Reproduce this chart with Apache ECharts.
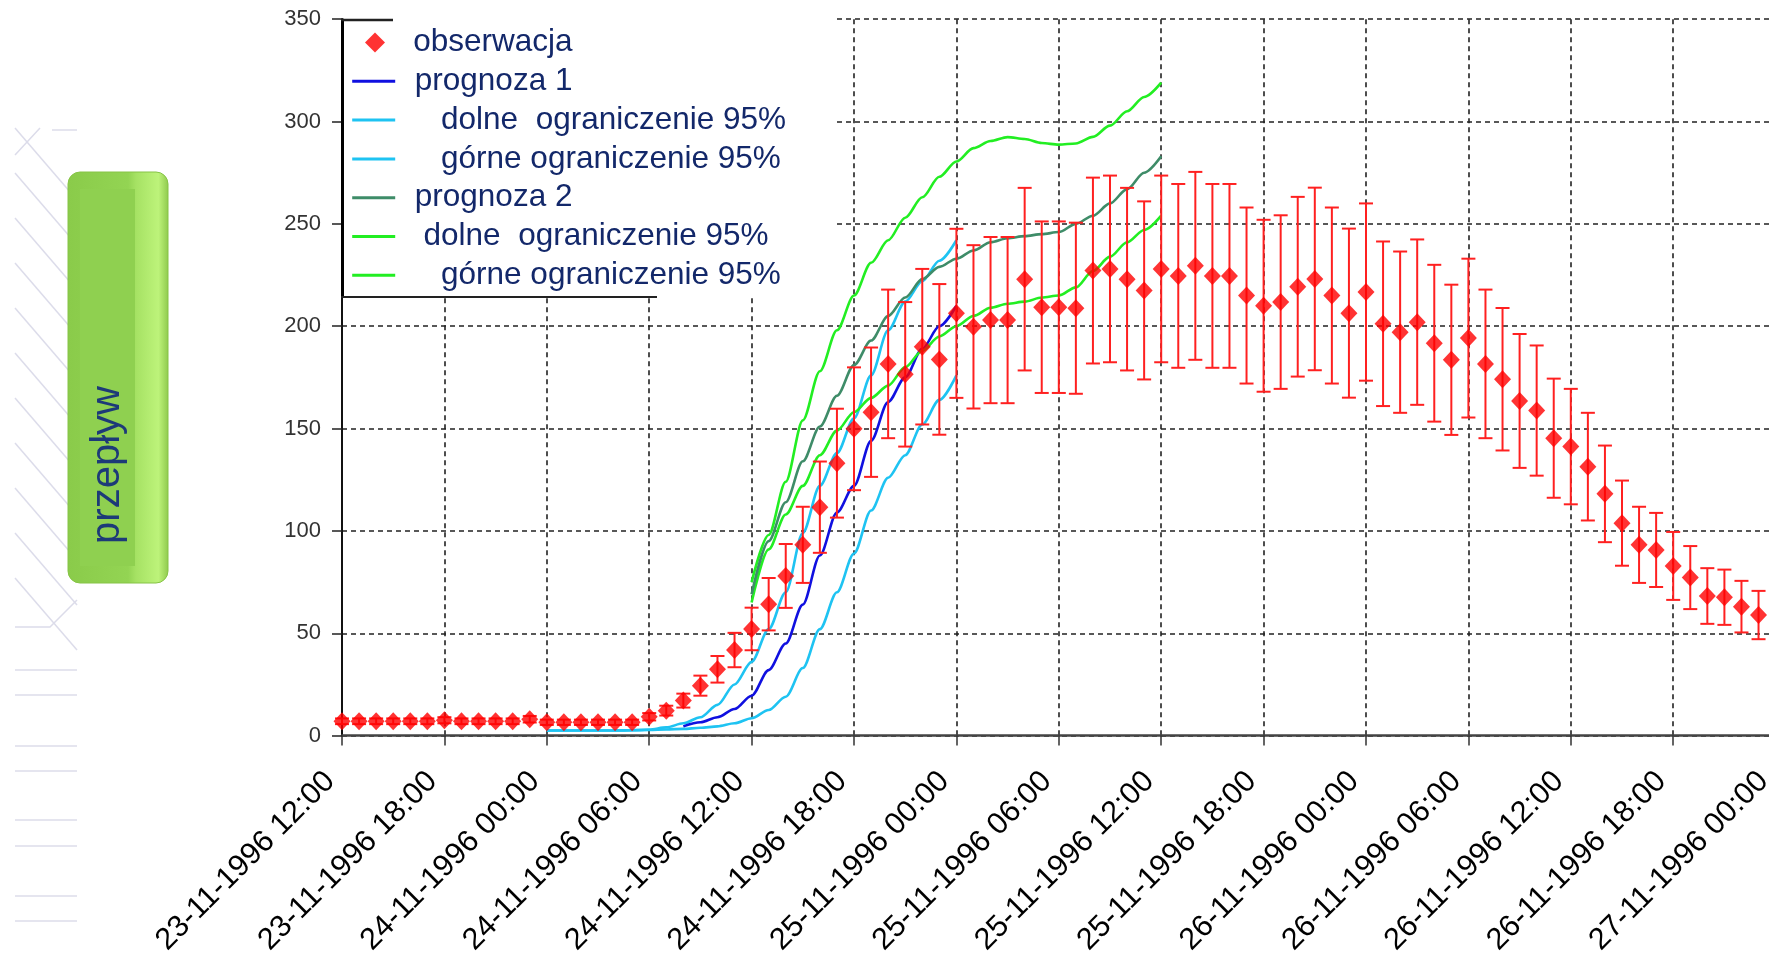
<!DOCTYPE html>
<html>
<head>
<meta charset="utf-8">
<script src="https://cdn.jsdelivr.net/npm/echarts@6/dist/echarts.min.js"></script>
<style>
  html, body { margin: 0; padding: 0; background: #ffffff; }
  #chart { width: 1769px; height: 956px; }
</style>
</head>
<body>
<div id="chart"></div>
<script>
// Axis tick labels, one every 6 hours starting 23-11-1996 12:00
const tickLabels = [
  '23-11-1996 12:00', '23-11-1996 18:00', '24-11-1996 00:00', '24-11-1996 06:00',
  '24-11-1996 12:00', '24-11-1996 18:00', '25-11-1996 00:00', '25-11-1996 06:00',
  '25-11-1996 12:00', '25-11-1996 18:00', '26-11-1996 00:00', '26-11-1996 06:00',
  '26-11-1996 12:00', '26-11-1996 18:00', '27-11-1996 00:00'
];
const hoursPerTick = 6;

// Hourly observed discharge, hour 0 = 23-11-1996 12:00
const obsStartHour = 0;
const observed = [
  7, 7, 7, 7, 7, 7, 7.5, 7, 7, 7, 7, 8,
  6.5, 6.5, 6.5, 6.5, 6.5, 6.5,
  9.2, 12.2, 17.1, 24.4, 32.4, 41.8,
  52.1, 64.2, 78, 93.2, 111.6, 133.1,
  149.9, 158, 181.6, 176.5, 190, 183.8,
  206.3, 199.7, 203, 203, 223, 209.3,
  209.3, 208.8, 227.2, 228, 223, 217.5,
  228, 224.6, 229.5, 224.6, 224.6, 215,
  210, 211.8, 219.3, 223.1, 215, 206.4,
  216.7, 201.2, 197.1, 202, 191.7, 183.6,
  194.2, 181.6, 174.1, 163.5, 158.8, 145.3,
  141.2, 131.4, 118.1, 103.8, 93.2, 90.7,
  82.9, 77.2, 68.2, 67.6, 63, 58.9
];
// Error bar ends of the observations
const observedLow = [
  5.6, 5.6, 5.6, 5.6, 5.6, 5.6, 6, 5.6, 5.6, 5.6, 5.6, 6.4,
  5.2, 5.2, 5.2, 5.2, 5.2, 5.2,
  7.4, 9.8, 13.7, 19.5, 25.9, 33.4,
  41.7, 51.4, 62.4, 74.6, 89.3, 106.5,
  119.9, 126.4, 145.3, 141.2, 152, 147,
  165, 159.8, 162.4, 162.4, 178.4, 167.4,
  167.4, 167, 181.8, 182.4, 178.4, 174,
  182.4, 179.7, 183.6, 179.7, 179.7, 172,
  168, 169.4, 175.4, 178.5, 172, 165.1,
  173.4, 161, 157.7, 161.6, 153.4, 146.9,
  155.4, 145.3, 139.3, 130.8, 127, 116.2,
  113, 105.1, 94.5, 83, 74.6, 72.6,
  66.3, 61.8, 54.6, 54.1, 50.4, 47.1
];
const observedHigh = [
  8.4, 8.4, 8.4, 8.4, 8.4, 8.4, 9, 8.4, 8.4, 8.4, 8.4, 9.6,
  7.8, 7.8, 7.8, 7.8, 7.8, 7.8,
  11, 14.6, 20.5, 29.3, 38.9, 50.2,
  62.5, 77, 93.6, 111.8, 133.9, 159.7,
  179.9, 189.6, 217.9, 211.8, 228, 220.6,
  247.6, 239.6, 243.6, 243.6, 267.6, 251.2,
  251.2, 250.6, 272.6, 273.6, 267.6, 261,
  273.6, 269.5, 275.4, 269.5, 269.5, 258,
  252, 254.2, 263.2, 267.7, 258, 247.7,
  260, 241.4, 236.5, 242.4, 230, 220.3,
  233, 217.9, 208.9, 196.2, 190.6, 174.4,
  169.4, 157.7, 141.7, 124.6, 111.8, 108.8,
  99.5, 92.6, 81.8, 81.1, 75.6, 70.7
];

// Forecast 1 and its 95% band
const forecast1StartHour = 20;
const forecast1 = [4.5, 6.5, 9, 13, 19.5, 32, 45, 64, 88, 109, 122, 144, 163, 175, 189, 200, 210];
const band1StartHour = 12;
const forecast1Lower = [2.5, 2.5, 2.5, 2.5, 2.5, 2.6, 2.7, 3, 3.3, 3.8, 4.5, 6, 8.5, 12.5, 19, 33, 52, 70, 89, 110, 126, 137, 152, 164, 176];
const forecast1Upper = [2.5, 2.5, 2.5, 2.5, 2.5, 2.6, 3, 4, 6, 9, 15, 25, 36, 52, 70, 99, 122, 138, 155, 176, 198, 212, 222, 232, 242];

// Forecast 2 and its 95% band
const forecast2StartHour = 24;
const forecast2 = [69, 95, 114, 134, 151, 166, 181, 193, 205, 214, 223, 229, 233, 237, 241, 243, 244, 245, 246, 250, 254, 260, 267, 275, 283];
const forecast2Lower = [65, 91, 108, 122, 137, 149, 158, 165, 171, 180, 188, 195, 200, 205, 209, 211, 212, 214, 215, 219, 227, 234, 241, 247, 254];
const forecast2Upper = [75, 98, 124, 154, 178, 198, 215, 231, 242, 253, 263, 273, 280.5, 287, 290.5, 292.4, 291.5, 289.5, 288.7, 289.3, 292.5, 298, 305, 312, 319];

// Legend labels (indentation as printed)
const names = {
  obs: 'obserwacja',
  f1: 'prognoza 1',
  f1lo: '   dolne  ograniczenie 95%',
  f1hi: '   górne ograniczenie 95%',
  f2: 'prognoza 2',
  f2lo: ' dolne  ograniczenie 95%',
  f2hi: '   górne ograniczenie 95% '
};

const toPairs = (start, arr) => arr.map((v, i) => [start + i, v]);

const FONT = "'Liberation Sans', Arial, sans-serif";
const RED = '#ff0000';
const LEGEND_TEXT = { fontFamily: FONT, fontSize: 31.5, color: '#13286a', lineHeight: 38.8 };

function lineSeries(name, start, values, color) {
  return {
    name, type: 'line', data: toPairs(start, values),
    symbol: 'none', smooth: 0.3, smoothMonotone: 'x',
    lineStyle: { color, width: 2.6 }, itemStyle: { color },
    z: 2, silent: true, animation: false
  };
}

// Left-side decoration: hatching and the rotated axis title button
const deco = [];
const hatchColor = '#dcdcea';
for (let y = 128; y <= 580; y += 45) {
  deco.push({ type: 'line', shape: { x1: 15, y1: y, x2: 77, y2: y + 72 },
    style: { stroke: hatchColor, lineWidth: 1.5 }, silent: true });
}
deco.push({ type: 'line', shape: { x1: 15, y1: 155, x2: 40, y2: 128 }, style: { stroke: hatchColor, lineWidth: 1.5 } });
deco.push({ type: 'polyline', shape: { points: [[52, 130], [77, 130]] }, style: { stroke: hatchColor, lineWidth: 1.5 } });
deco.push({ type: 'polyline', shape: { points: [[15, 627], [50, 627], [77, 600]] }, style: { stroke: hatchColor, lineWidth: 1.5, fill: null } });
[670, 695, 746, 771, 820, 846, 896, 921].forEach(y => {
  deco.push({ type: 'line', shape: { x1: 15, y1: y, x2: 77, y2: y }, style: { stroke: hatchColor, lineWidth: 1.5 } });
});

const button = [
  { type: 'rect', shape: { x: 68, y: 172, width: 100, height: 411, r: 12 },
    style: {
      fill: new echarts.graphic.LinearGradient(0, 0, 1, 0, [
        { offset: 0, color: '#8acb4a' },
        { offset: 0.6, color: '#93d453' },
        { offset: 0.68, color: '#a6e264' },
        { offset: 0.9, color: '#bdf37a' },
        { offset: 1, color: '#8fc94d' }
      ]),
      stroke: '#86c446', lineWidth: 1
    } },
  { type: 'rect', shape: { x: 80, y: 189, width: 55, height: 377 },
    style: { fill: '#8fd050' } },
  { type: 'text', x: 108, y: 465, rotation: Math.PI / 2,
    style: { text: 'przepływ', fill: '#1d3a78', font: "40px 'Liberation Sans', Arial, sans-serif",
      align: 'center', verticalAlign: 'middle' } }
];

// White panel behind the legend with its partial frame
const legendPanel = [
  { type: 'rect', z: 1, shape: { x: 343.5, y: 17.5, width: 490, height: 279.5 }, style: { fill: '#ffffff' } },
  { type: 'line', z: 1, shape: { x1: 342.5, y1: 19, x2: 342.5, y2: 297 }, style: { stroke: '#000', lineWidth: 3 } },
  { type: 'line', z: 1, shape: { x1: 341, y1: 20, x2: 393, y2: 20 }, style: { stroke: '#222', lineWidth: 2.5 } },
  { type: 'line', z: 1, shape: { x1: 341, y1: 297, x2: 657, y2: 297 }, style: { stroke: '#222', lineWidth: 2 } }
];

const chart = echarts.init(document.getElementById('chart'), null, { renderer: 'canvas' });

chart.setOption({
  animation: false,
  backgroundColor: '#ffffff',
  grid: { left: 342, top: 19.2, width: 1433.6, height: 716.4, containLabel: false, outerBoundsMode: 'none' },
  xAxis: {
    type: 'value', min: 0, max: (tickLabels.length - 1) * hoursPerTick, interval: hoursPerTick,
    axisLine: { show: true, onZero: false, lineStyle: { color: '#444', width: 2.5 } },
    axisTick: { show: true, length: 10, lineStyle: { color: '#333', width: 1.5 } },
    axisLabel: {
      rotate: 45, margin: 29, padding: [0, 17, 0, 0],
      fontFamily: FONT, fontSize: 30.5, color: '#000',
      formatter: v => tickLabels[Math.round(v / hoursPerTick)] || ''
    },
    splitLine: { show: true, lineStyle: { color: '#222', type: [5, 4], width: 1.6 } }
  },
  yAxis: {
    type: 'value', min: 0, max: 350, interval: 50,
    axisLine: { show: true, lineStyle: { color: '#111', width: 2 } },
    axisTick: { show: true, length: 10, lineStyle: { color: '#222', width: 1.5 } },
    axisLabel: { margin: 21, fontFamily: FONT, fontSize: 22, color: '#333' },
    splitLine: { show: true, lineStyle: { color: '#222', type: [5, 4], width: 1.6 } }
  },
  legend: [
    {
      orient: 'vertical', left: 365, top: 23.1, padding: 0,
      itemWidth: 20, itemHeight: 20, itemGap: 0, selectedMode: false,
      textStyle: Object.assign({ padding: [0, 0, 0, 23.3] }, LEGEND_TEXT),
      data: [names.obs]
    },
    {
      orient: 'vertical', left: 350.7, top: 61.9, padding: 0,
      itemWidth: 43, itemHeight: 18, itemGap: 0, selectedMode: false,
      itemStyle: { opacity: 0 },
      lineStyle: { width: 3 },
      textStyle: Object.assign({ padding: [0, 0, 0, 14.6] }, LEGEND_TEXT),
      data: [names.f1, names.f1lo, names.f1hi, names.f2, names.f2lo, names.f2hi]
    }
  ],
  graphic: { elements: [...deco, ...button, ...legendPanel] },
  series: [
    lineSeries(names.f1lo, band1StartHour, forecast1Lower, '#1ec3f2'),
    lineSeries(names.f1hi, band1StartHour, forecast1Upper, '#1ec3f2'),
    lineSeries(names.f1, forecast1StartHour, forecast1, '#1010e0'),
    lineSeries(names.f2lo, forecast2StartHour, forecast2Lower, '#22ee22'),
    lineSeries(names.f2hi, forecast2StartHour, forecast2Upper, '#22ee22'),
    lineSeries(names.f2, forecast2StartHour, forecast2, '#3e8c68'),
    {
      name: 'errorbars', type: 'custom', z: 3, silent: true,
      data: observedLow.map((lo, i) => [obsStartHour + i, lo, observedHigh[i]]),
      encode: { x: 0, y: [1, 2] },
      renderItem: (params, api) => {
        const x = api.value(0);
        const lo = api.coord([x, api.value(1)]);
        const hi = api.coord([x, api.value(2)]);
        const half = 7;
        const style = { stroke: '#ff2020', lineWidth: 2 };
        return {
          type: 'group',
          children: [
            { type: 'line', shape: { x1: lo[0], y1: lo[1], x2: hi[0], y2: hi[1] }, style },
            { type: 'line', shape: { x1: lo[0] - half, y1: lo[1], x2: lo[0] + half, y2: lo[1] }, style },
            { type: 'line', shape: { x1: hi[0] - half, y1: hi[1], x2: hi[0] + half, y2: hi[1] }, style }
          ]
        };
      }
    },
    {
      name: names.obs, type: 'scatter', z: 4, silent: true,
      data: toPairs(obsStartHour, observed),
      symbol: 'diamond', symbolSize: [17, 18],
      itemStyle: { color: RED }
    }
  ]
});
</script>
</body>
</html>
